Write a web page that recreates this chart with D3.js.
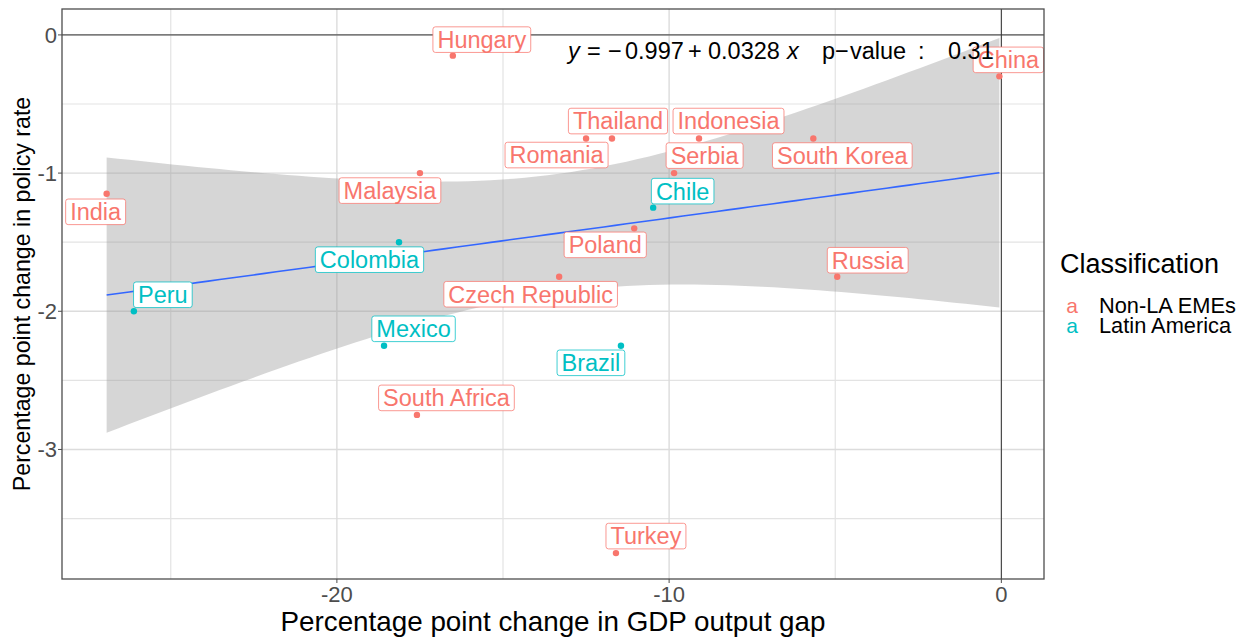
<!DOCTYPE html>
<html>
<head>
<meta charset="utf-8">
<script src="https://cdn.jsdelivr.net/npm/d3@7"></script>
<style>
  body { margin: 0; background: #fff; }
  svg { font-family: "Liberation Sans", Arial, sans-serif; }
</style>
</head>
<body>
<svg id="chart" width="1256" height="638"></svg>
<script>
// Data
const countries = ["India", "Peru", "Hungary", "Malaysia", "Colombia", "Mexico", "South Africa",
  "Romania", "Thailand", "Czech Republic", "Poland", "Brazil", "Turkey", "Chile", "Serbia",
  "Indonesia", "South Korea", "Russia", "China"];
const gdpGap = [-26.93, -26.11, -16.51, -17.5, -18.13, -18.58, -17.59, -12.5, -11.72, -13.31,
  -11.05, -11.45, -11.6, -10.48, -9.85, -9.1, -5.66, -4.94, -0.06];
const policyRate = [-1.15, -2.0, -0.15, -1.0, -1.5, -2.25, -2.75, -0.75, -0.75, -1.75,
  -1.4, -2.25, -3.75, -1.25, -1.0, -0.75, -0.75, -1.75, -0.3];
const classification = ["Non-LA EMEs", "Latin America", "Non-LA EMEs", "Non-LA EMEs", "Latin America",
  "Latin America", "Non-LA EMEs", "Non-LA EMEs", "Non-LA EMEs", "Non-LA EMEs", "Non-LA EMEs",
  "Latin America", "Non-LA EMEs", "Latin America", "Non-LA EMEs", "Non-LA EMEs", "Non-LA EMEs",
  "Non-LA EMEs", "Non-LA EMEs"];
const classes = ["Non-LA EMEs", "Latin America"];
const xTicks = [-20, -10, 0];
const yTicks = [0, -1, -2, -3];

// repelled label offsets (px from point to label centre)
const labelOffset = {
  "India": [-11, 18], "Peru": [29, -16.5], "Hungary": [29, -16], "Malaysia": [-30, 17.5],
  "Colombia": [-29.5, 17.5], "Mexico": [29.5, -17], "South Africa": [29.5, -17],
  "Romania": [-29.5, 16.5], "Thailand": [6, -17.5], "Czech Republic": [-28.5, 17.5],
  "Poland": [-29, 16.5], "Brazil": [-30, 17], "Turkey": [30, -17], "Chile": [29.5, -16.5],
  "Serbia": [30.5, -17.5], "Indonesia": [29.5, -17.5], "South Korea": [29, 17],
  "Russia": [30.5, -16.5], "China": [9, -16.5]
};

const svg = d3.select("#chart");
const panel = { left: 62, right: 1044, top: 9, bottom: 579 };
const color = d3.scaleOrdinal().domain(classes).range(["#F8766D", "#00BFC4"]);

// ggplot style 5% expansion
function expand(ext) {
  const d = (ext[1] - ext[0]) * 0.05;
  return [ext[0] - d, ext[1] + d];
}
const x = d3.scaleLinear().domain(expand(d3.extent(gdpGap))).range([panel.left, panel.right]);
const y = d3.scaleLinear().domain(expand(d3.extent(policyRate.concat([0])))).range([panel.bottom, panel.top]);

// grid
const g = svg.append("g");
const xMinor = [-25, -15, -5], yMinor = [-0.5, -1.5, -2.5, -3.5];
g.selectAll(".xminor").data(xMinor).enter().append("line")
  .attr("x1", d => x(d)).attr("x2", d => x(d)).attr("y1", panel.top).attr("y2", panel.bottom)
  .attr("stroke", "#e3e3e3").attr("stroke-width", 1.2);
g.selectAll(".yminor").data(yMinor).enter().append("line")
  .attr("y1", d => y(d)).attr("y2", d => y(d)).attr("x1", panel.left).attr("x2", panel.right)
  .attr("stroke", "#e3e3e3").attr("stroke-width", 1.2);
g.selectAll(".xmajor").data(xTicks).enter().append("line")
  .attr("x1", d => x(d)).attr("x2", d => x(d)).attr("y1", panel.top).attr("y2", panel.bottom)
  .attr("stroke", "#dcdcdc").attr("stroke-width", 1.4);
g.selectAll(".ymajor").data(yTicks).enter().append("line")
  .attr("y1", d => y(d)).attr("y2", d => y(d)).attr("x1", panel.left).attr("x2", panel.right)
  .attr("stroke", "#dcdcdc").attr("stroke-width", 1.4);

// reference lines at zero
svg.append("line").attr("x1", panel.left).attr("x2", panel.right)
  .attr("y1", y(0)).attr("y2", y(0)).attr("stroke", "#333").attr("stroke-width", 1);
svg.append("line").attr("x1", x(0)).attr("x2", x(0))
  .attr("y1", panel.top).attr("y2", panel.bottom).attr("stroke", "#333").attr("stroke-width", 1);

// linear fit with 95% confidence band
const n = gdpGap.length;
const mx = d3.mean(gdpGap), my = d3.mean(policyRate);
const sxx = d3.sum(gdpGap, v => (v - mx) ** 2);
const sxy = d3.sum(gdpGap, (v, i) => (v - mx) * (policyRate[i] - my));
const slope = sxy / sxx, intercept = my - slope * mx;
const sse = d3.sum(gdpGap, (v, i) => (policyRate[i] - intercept - slope * v) ** 2);
const s = Math.sqrt(sse / (n - 2));
const tq = 2.1098; // t(0.975, 17)
const [xlo, xhi] = d3.extent(gdpGap);
const fit = d3.range(80).map(i => {
  const xv = xlo + (xhi - xlo) * i / 79;
  const yv = intercept + slope * xv;
  const se = s * Math.sqrt(1 / n + (xv - mx) ** 2 / sxx);
  return { x: xv, y: yv, lo: yv - tq * se, hi: yv + tq * se };
});
svg.append("path").datum(fit)
  .attr("d", d3.area().x(d => x(d.x)).y0(d => y(d.lo)).y1(d => y(d.hi)))
  .attr("fill", "#999999").attr("fill-opacity", 0.4);
svg.append("path").datum(fit)
  .attr("d", d3.line().x(d => x(d.x)).y(d => y(d.y)))
  .attr("fill", "none").attr("stroke", "#3366FF").attr("stroke-width", 1.6);

// points
svg.selectAll(".pt").data(countries).enter().append("circle")
  .attr("cx", (d, i) => x(gdpGap[i])).attr("cy", (d, i) => y(policyRate[i]))
  .attr("r", 3.2).attr("fill", (d, i) => color(classification[i]));

// labels
const labels = svg.selectAll(".lab").data(countries).enter().append("g");
labels.each(function (d, i) {
  const el = d3.select(this);
  const cx = x(gdpGap[i]) + labelOffset[d][0];
  const cy = y(policyRate[i]) + labelOffset[d][1];
  const c = color(classification[i]);
  const rect = el.append("rect");
  const t = el.append("text").attr("x", cx).attr("y", cy + 8.4)
    .attr("text-anchor", "middle").attr("font-size", 23.5).attr("fill", c).text(d);
  const w = t.node().getComputedTextLength() + 9;
  rect.attr("x", cx - w / 2).attr("y", cy - 12.8).attr("width", w).attr("height", 25.6)
    .attr("rx", 2.5).attr("fill", "#fff").attr("stroke", c).attr("stroke-opacity", 0.75)
    .attr("stroke-width", 1);
});

// panel border
svg.append("rect").attr("x", panel.left).attr("y", panel.top)
  .attr("width", panel.right - panel.left).attr("height", panel.bottom - panel.top)
  .attr("fill", "none").attr("stroke", "#4d4d4d").attr("stroke-width", 1.3);

// ticks and tick labels
svg.selectAll(".xt").data(xTicks).enter().append("line")
  .attr("x1", d => x(d)).attr("x2", d => x(d)).attr("y1", panel.bottom).attr("y2", panel.bottom + 4)
  .attr("stroke", "#4d4d4d").attr("stroke-width", 1);
svg.selectAll(".xl").data(xTicks).enter().append("text")
  .attr("x", d => x(d)).attr("y", 602).attr("text-anchor", "middle")
  .attr("font-size", 22).attr("fill", "#4d4d4d").text(d => d);
svg.selectAll(".yt").data(yTicks).enter().append("line")
  .attr("y1", d => y(d)).attr("y2", d => y(d)).attr("x1", panel.left - 4).attr("x2", panel.left)
  .attr("stroke", "#4d4d4d").attr("stroke-width", 1);
svg.selectAll(".yl").data(yTicks).enter().append("text")
  .attr("x", 57).attr("y", d => y(d) + 8).attr("text-anchor", "end")
  .attr("font-size", 22).attr("fill", "#4d4d4d").text(d => d);

// axis titles
svg.append("text").attr("x", (panel.left + panel.right) / 2).attr("y", 631)
  .attr("text-anchor", "middle").attr("font-size", 27.8).attr("fill", "#000")
  .text("Percentage point change in GDP output gap");
svg.append("text")
  .attr("transform", `translate(30,${(panel.top + panel.bottom) / 2}) rotate(-90)`)
  .attr("text-anchor", "middle").attr("font-size", 23.2).attr("fill", "#000")
  .text("Percentage point change in policy rate");

// equation label
const eq = svg.append("text").attr("y", 59).attr("font-size", 23.5).attr("fill", "#000");
const eqParts = [
  [568, "y", true], [587, "=", false], [608, "\u2212", false], [625, "0.997", false],
  [688, "+", false], [708, "0.0328", false], [787, "x", true], [822, "p", false],
  [835, "\u2212", false], [850, "value", false], [918, ":", false], [948, "0.31", false]
];
eqParts.forEach(p => {
  eq.append("tspan").attr("x", p[0]).attr("font-style", p[2] ? "italic" : "normal").text(p[1]);
});

// legend
const lg = svg.append("g");
lg.append("text").attr("x", 1060).attr("y", 273).attr("font-size", 27).attr("fill", "#000")
  .text("Classification");
classes.forEach((c, i) => {
  lg.append("text").attr("x", 1072).attr("y", 313 + i * 19.5).attr("text-anchor", "middle")
    .attr("font-size", 21).attr("fill", color(c)).text("a");
  lg.append("text").attr("x", 1099).attr("y", 313 + i * 19.5).attr("font-size", 21.8)
    .attr("fill", "#000").text(c);
});
</script>
</body>
</html>
